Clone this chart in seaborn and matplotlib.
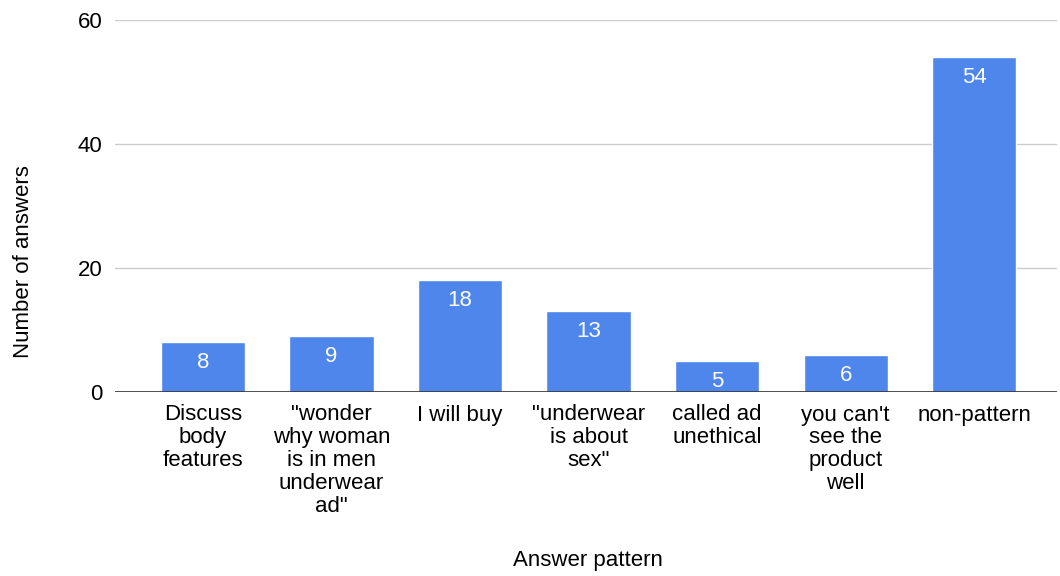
import matplotlib
matplotlib.use("Agg")
import matplotlib.pyplot as plt
import seaborn as sns
import pandas as pd

categories = ["Discuss\nbody\nfeatures", "\"wonder\nwhy woman\nis in men\nunderwear\nad\"",
              "I will buy", "\"underwear\nis about\nsex\"", "called ad\nunethical",
              "you can't\nsee the\nproduct\nwell", "non-pattern"]
values = [8, 9, 18, 13, 5, 6, 54]
y_ticks = [0, 20, 40, 60]

sns.set_theme(style="white")
plt.rcParams['font.family'] = ['Liberation Sans', 'DejaVu Sans']

df = pd.DataFrame({"cat": categories, "val": values})

fig = plt.figure(figsize=(10.6, 5.76), dpi=100)
ax = fig.add_axes([115/1060, 1-392/576, (1057-115)/1060, (392-20)/576])

sns.barplot(data=df, x="cat", y="val", color="#4F86EC", width=0.655, ax=ax,
            saturation=1, zorder=3)

ax.set_ylim(0, 60)
ax.set_xlim(-0.685, 6.645)
ax.set_yticks(y_ticks)
ax.yaxis.grid(True, color="#CCCCCC", linewidth=1, zorder=0)
ax.axhline(0, color="#333333", linewidth=1.2, zorder=4)
for s in ax.spines.values():
    s.set_visible(False)
ax.tick_params(axis="both", length=0, labelsize=16, colors="#000000")
ax.tick_params(axis="x", pad=9)
ax.tick_params(axis="y", pad=9)
for lab in ax.get_xticklabels():
    lab.set_linespacing(1.12)
    lab.set_va("top")

for i, v in enumerate(values):
    ax.annotate(str(v), xy=(i, v), xytext=(0, -7), textcoords="offset points",
                ha="center", va="top", color="white", fontsize=16, zorder=5)

ax.set_xlabel("Answer pattern", fontsize=16, color="#000000")
ax.set_ylabel("Number of answers", fontsize=16, color="#000000")
ax.xaxis.set_label_coords((588-115)/(1057-115), -(550-392)/(392-20))
ax.yaxis.set_label_coords(-(115-34)/(1057-115), (392-262)/(392-20))

fig.savefig("out.png", dpi=100)
